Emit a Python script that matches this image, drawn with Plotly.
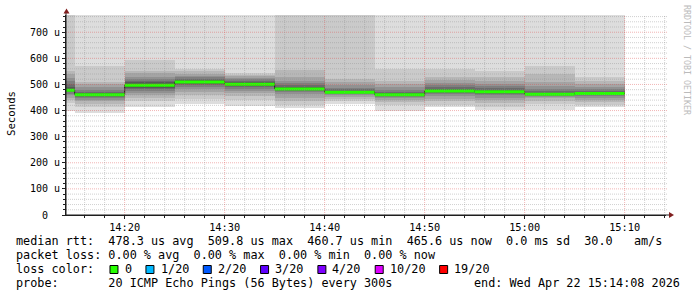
import plotly.graph_objects as go
from datetime import datetime, timedelta

# ---------------- data ----------------
day = "2026-04-22"
interval_ends = ["14:15", "14:20", "14:25", "14:30", "14:35", "14:40",
                 "14:45", "14:50", "14:55", "15:00", "15:05", "15:10"]
step_minutes = 5
medians = [478.0, 461.0, 497.0, 509.8, 501.0, 483.0, 470.0, 460.7, 475.0, 472.0, 462.0, 465.6]
# 20 sorted ping rtts (microseconds) per interval
pings = [
    [397, 430, 440, 450, 458, 465, 470, 474, 476, 477, 480, 484, 490, 500, 512, 525, 540, 550, 800, 900],
    [390, 412, 425, 435, 442, 447, 451, 454, 457, 460, 462, 464, 467, 472, 480, 490, 500, 510, 572, 900],
    [412, 438, 450, 460, 468, 476, 483, 488, 492, 495, 499, 503, 508, 515, 522, 530, 542, 553, 592, 900],
    [427, 445, 460, 472, 482, 490, 497, 502, 506, 509, 511, 514, 518, 522, 527, 533, 540, 550, 561, 900],
    [418, 440, 455, 466, 475, 483, 490, 495, 498, 500, 502, 505, 509, 514, 519, 525, 532, 538, 545, 900],
    [408, 420, 435, 450, 462, 470, 476, 479, 481, 482, 484, 487, 491, 497, 504, 515, 530, 555, 800, 900],
    [425, 437, 446, 453, 459, 463, 466, 468, 469, 470, 471, 473, 476, 481, 488, 497, 508, 520, 800, 900],
    [397, 420, 432, 440, 447, 452, 455, 457, 459, 460, 461, 463, 467, 472, 480, 490, 502, 515, 561, 900],
    [412, 422, 435, 446, 455, 462, 467, 471, 473, 474, 476, 479, 484, 490, 498, 507, 518, 530, 561, 900],
    [402, 415, 428, 440, 450, 458, 464, 468, 470, 471, 473, 476, 480, 486, 493, 502, 512, 530, 553, 900],
    [402, 426, 438, 447, 453, 457, 459, 461, 462, 462, 463, 465, 469, 475, 483, 495, 510, 540, 570, 900],
    [414, 421, 432, 442, 450, 456, 460, 462, 464, 465, 466, 468, 471, 476, 482, 490, 500, 512, 529, 900],
]
band_colors = ["#dddddd", "#cacaca", "#b7b7b7", "#a4a4a4", "#919191",
               "#7e7e7e", "#6b6b6b", "#585858", "#454545", "#323232"]
y_max = 766
y_tick_vals = [0, 100, 200, 300, 400, 500, 600, 700]
y_tick_text = ["0\u00a0\u00a0", "100 u", "200 u", "300 u", "400 u", "500 u", "600 u", "700 u"]
x_tick_labels = ["14:20", "14:30", "14:40", "14:50", "15:00", "15:10"]
range_start = "2026-04-22 14:14:08"
range_end = "2026-04-22 15:14:08"

line_median = "median rtt:  478.3 us avg  509.8 us max  460.7 us min  465.6 us now  0.0 ms sd  30.0   am/s"
line_loss = "packet loss: 0.00 % avg  0.00 % max  0.00 % min  0.00 % now"
loss_title = "loss color:"
loss_labels = ["0", "1/20", "2/20", "3/20", "4/20", "10/20", "19/20"]
loss_colors = ["#26ff00", "#00b8ff", "#0059ff", "#5e00ff", "#7e00ff", "#dd00ff", "#ff0000"]
line_probe = "probe:       20 ICMP Echo Pings (56 Bytes) every 300s"
line_end = "end: Wed Apr 22 15:14:08 2026"
watermark = "RRDTOOL / TOBI OETIKER"
y_title = "Seconds"

# ---------------- layout geometry ----------------
FW, FH = 697, 297
L, T, W, H = 66, 15, 600, 200
MONO = "DejaVu Sans Mono"
CH = 7.12  # monospace advance in px


def px(xp):
    return (xp - L) / W


def py(yp):
    return (T + H - yp) / H


fmt = "%Y-%m-%d %H:%M"
ends = [datetime.strptime(f"{day} {e}", fmt) for e in interval_ends]
step = timedelta(minutes=step_minutes)
starts = [e - step for e in ends]
centers = [s + step / 2 for s in starts]

fig = go.Figure()

# smoke bands (outer -> inner)
n = len(pings[0])
for k in range(n // 2):
    fig.add_trace(go.Bar(
        x=centers,
        base=[p[k] for p in pings],
        y=[p[n - 1 - k] - p[k] for p in pings],
        width=[step.total_seconds() * 1000] * len(centers),
        marker=dict(color=band_colors[k], line=dict(width=0)),
        showlegend=False, hoverinfo="skip",
    ))

# dark step connector
sx, sy = [], []
for s, e, m in zip(starts, ends, medians):
    sx += [s, e]
    sy += [m, m]
fig.add_trace(go.Scatter(x=sx, y=sy, mode="lines", line=dict(color="#202020", width=1),
                         showlegend=False, hoverinfo="skip"))
# median segments (green = 0 loss)
mx, my = [], []
for s, e, m in zip(starts, ends, medians):
    mx += [s, e, None]
    my += [m, m, None]
fig.add_trace(go.Scatter(x=mx, y=my, mode="lines", line=dict(color=loss_colors[0], width=3),
                         showlegend=False, hoverinfo="skip", connectgaps=False))

shapes = []
grid_minor = "rgba(143,143,143,0.42)"
grid_major = "rgba(222,79,79,0.42)"
x_right = px(668)
# horizontal grid
for v in range(20, y_max + 1, 20):
    major = v % 100 == 0
    shapes.append(dict(type="line", xref="paper", yref="y", x0=0, x1=x_right, y0=v, y1=v,
                       line=dict(color=grid_major if major else grid_minor, width=1, dash="1px,1px"),
                       layer="above"))
# vertical grid
t0 = datetime.strptime(range_start, "%Y-%m-%d %H:%M:%S")
t1 = datetime.strptime(range_end, "%Y-%m-%d %H:%M:%S")
t = datetime.strptime(f"{day} 14:16", fmt)
while t < t1:
    major = t.minute % 10 == 0
    shapes.append(dict(type="line", xref="x", yref="paper", x0=t, x1=t, y0=0, y1=1,
                       line=dict(color=grid_major if major else grid_minor, width=1, dash="1px,1px"),
                       layer="above"))
    t += timedelta(minutes=2)

axis_col = "#1f1f1f"
arrow_col = "#801f1f"
# axis extensions + arrows
shapes.append(dict(type="line", xref="paper", yref="paper", x0=0, x1=0, y0=0, y1=py(12),
                   line=dict(color=axis_col, width=1), layer="above"))
shapes.append(dict(type="line", xref="paper", yref="paper", x0=0, x1=px(669), y0=0, y1=0,
                   line=dict(color=axis_col, width=1), layer="above"))
shapes.append(dict(type="path", xref="paper", yref="paper",
                   path=f"M {px(66.5)} {py(8.5)} L {px(63.5)} {py(13.5)} L {px(69.5)} {py(13.5)} Z",
                   fillcolor=arrow_col, line=dict(width=0), layer="above"))
shapes.append(dict(type="path", xref="paper", yref="paper",
                   path=f"M {px(674)} {py(215)} L {px(669)} {py(212)} L {px(669)} {py(218)} Z",
                   fillcolor=arrow_col, line=dict(width=0), layer="above"))

annotations = []
text_font = dict(family=MONO, size=11.8, color="black")


def text_at(xp, yp, s, anchor="left", font=text_font):
    annotations.append(dict(xref="paper", yref="paper", x=px(xp), y=py(yp), text=s,
                            showarrow=False, xanchor=anchor, yanchor="middle", font=font,
                            borderpad=0))


text_at(15, 241, line_median.replace(" ", "\u00a0"))
text_at(15, 255, line_loss.replace(" ", "\u00a0"))
text_at(15, 269, loss_title.replace(" ", "\u00a0"))
idx = 13.2
for lab, col in zip(loss_labels, loss_colors):
    sx0 = 16 + idx * CH
    shapes.append(dict(type="rect", xref="paper", yref="paper",
                       x0=px(sx0), x1=px(sx0 + 8), y0=py(273.5), y1=py(265.5),
                       fillcolor=col, line=dict(color="black", width=1), layer="above"))
    lidx = idx + 2.05
    text_at(15 + lidx * CH, 269, lab)
    idx = lidx + len(lab) + 2
text_at(15, 283, line_probe.replace(" ", "\u00a0"))
text_at(681, 283, line_end.replace(" ", "\u00a0"), anchor="right")

annotations.append(dict(xref="paper", yref="paper", x=px(11), y=py(114), text=y_title,
                        textangle=-90, showarrow=False, xanchor="center", yanchor="middle",
                        font=dict(family=MONO, size=10.7, color="black")))
annotations.append(dict(xref="paper", yref="paper", x=px(687), y=py(60), text=watermark,
                        textangle=90, showarrow=False, xanchor="center", yanchor="middle",
                        font=dict(family=MONO, size=8.3, color="#bbbbbb")))

x_tick_vals = [datetime.strptime(f"{day} {s}", fmt) for s in x_tick_labels]

fig.update_layout(
    width=FW, height=FH,
    margin=dict(l=L, r=FW - L - W, t=T, b=FH - T - H, pad=0),
    paper_bgcolor="white", plot_bgcolor="white",
    barmode="overlay", bargap=0,
    showlegend=False,
    shapes=shapes, annotations=annotations,
    xaxis=dict(type="date", range=[range_start, range_end], tickvals=x_tick_vals,
               ticktext=x_tick_labels, showgrid=False, zeroline=False,
               showline=True, linecolor=axis_col, linewidth=1,
               ticks="outside", ticklen=3, tickcolor=axis_col,
               tickfont=dict(family=MONO, size=10.3, color="black"),
               minor=dict(ticks="outside", ticklen=2, tickcolor=axis_col,
                          dtick=120000, tick0=f"{day} 14:00", showgrid=False),
               fixedrange=True),
    yaxis=dict(range=[0, y_max], tickvals=y_tick_vals, ticktext=y_tick_text,
               showgrid=False, zeroline=False,
               showline=True, linecolor=axis_col, linewidth=1,
               ticks="outside", ticklen=3, tickcolor=axis_col,
               tickfont=dict(family=MONO, size=10, color="black"),
               minor=dict(ticks="outside", ticklen=2, tickcolor=axis_col,
                          dtick=20, tick0=0, showgrid=False),
               fixedrange=True),
)

fig.write_html("out.html")
